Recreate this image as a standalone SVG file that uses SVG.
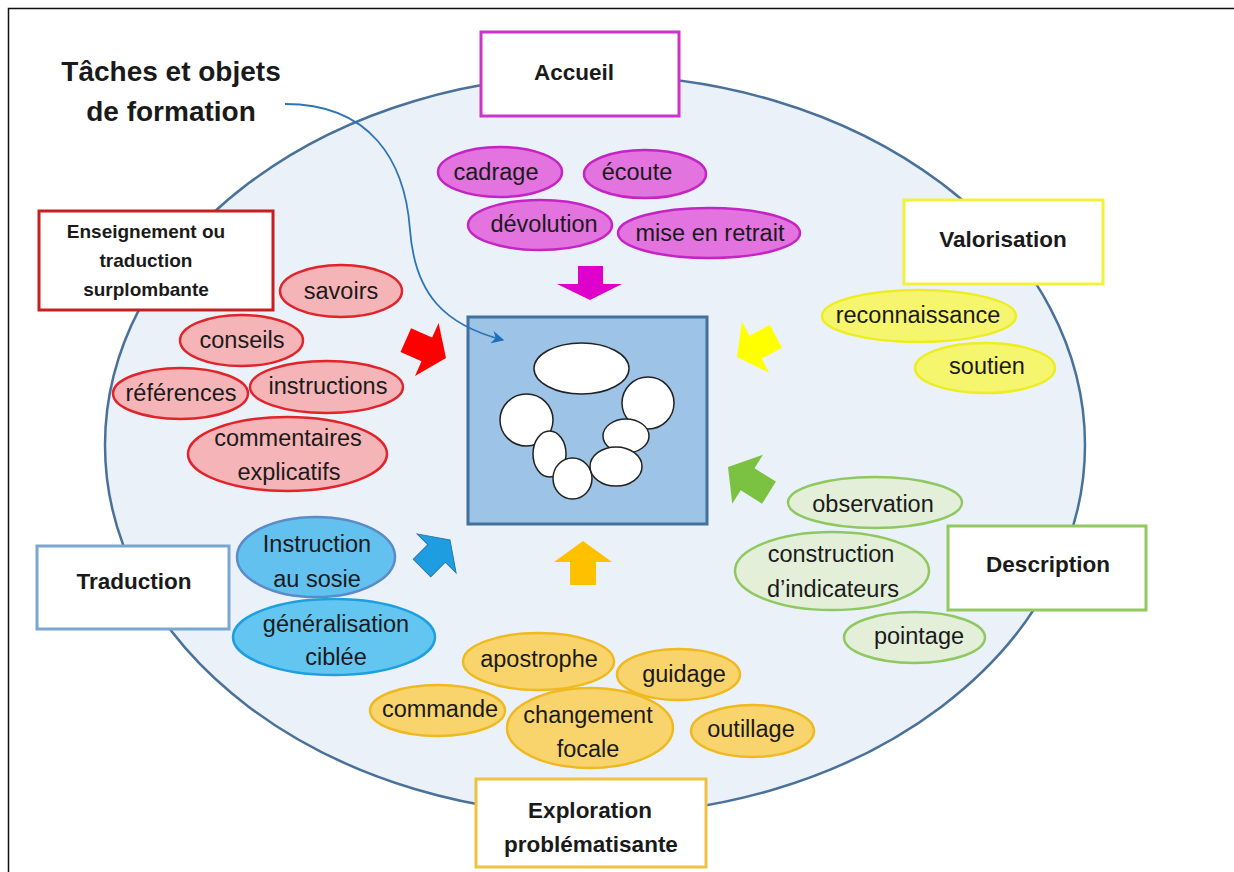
<svg xmlns="http://www.w3.org/2000/svg" width="1234" height="872" viewBox="0 0 1234 872">
<style>
text{font-family:"Liberation Sans",Arial,sans-serif;fill:#1a1a1a;text-anchor:middle}
.n{font-size:23.5px}
.b{font-weight:bold;font-size:22.5px}
.bs{font-weight:bold;font-size:19px}
.title{font-weight:bold;font-size:28px}
.box{fill:#ffffff;stroke-width:3}
.mag{fill:#e273df;stroke:#c524c4;stroke-width:2.5}
.yel{fill:#f6f56e;stroke:#eded22;stroke-width:2.5}
.red{fill:#f5b4b8;stroke:#e0242a;stroke-width:2.5}
.grn{fill:#e3efd9;stroke:#8fc860;stroke-width:2.5}
.org{fill:#f9d46c;stroke:#efb922;stroke-width:2.5}
.wh{fill:#ffffff;stroke:#222;stroke-width:1.5}
</style>
<defs>
<path id="blk" d="M0,0 L-21,-29 L-21,-13 L-44,-13 L-44,13 L-21,13 L-21,29 Z"/>
<marker id="ah" viewBox="0 0 10 10" refX="9" refY="5" markerWidth="7" markerHeight="7" orient="auto">
<path d="M0,0 L10,5 L0,10 L3,5 Z" fill="#1f6fb8"/>
</marker>
</defs>
<rect x="8.5" y="8.5" width="1240" height="880" fill="#ffffff" stroke="#111" stroke-width="1.5"/>
<g id="main-ellipse">
<ellipse cx="595" cy="445" rx="490" ry="370" fill="#eaf1f9" stroke="#4a7199" stroke-width="2.5"/>
</g>
<g id="title">
<text class="title" x="171" y="81">Tâches et objets</text>
<text class="title" x="171" y="121">de formation</text>
</g>
<g id="center-box">
<rect x="468" y="317" width="239" height="207" fill="#9dc3e6" stroke="#41719c" stroke-width="3"/>
<ellipse class="wh" cx="581.5" cy="368.5" rx="47.5" ry="25.5"/>
<ellipse class="wh" cx="526.5" cy="420" rx="26.5" ry="26"/>
<ellipse class="wh" cx="549.5" cy="454" rx="16.5" ry="23"/>
<ellipse class="wh" cx="572.5" cy="478.5" rx="19.5" ry="20.5"/>
<ellipse class="wh" cx="648" cy="403" rx="26" ry="26"/>
<ellipse class="wh" cx="626" cy="436" rx="23" ry="17"/>
<ellipse class="wh" cx="616" cy="466.5" rx="26" ry="19.5"/>
</g>
<g id="connectors">
<path d="M285,104 C370,104 405,160 410,230 C415,295 445,325 503,340" fill="none" stroke="#2e75b6" stroke-width="1.8" marker-end="url(#ah)"/>
<polygon points="590,300 557,284 578,284 578,266 603,266 603,284 622,284" fill="#e000cc"/>
<use href="#blk" transform="translate(737,357) rotate(152)" fill="#ffff00"/>
<use href="#blk" transform="translate(446,358) rotate(24)" fill="#ff0000"/>
<use href="#blk" transform="translate(728,467) rotate(212) scale(1.1,1)" fill="#7cc242"/>
<use href="#blk" transform="translate(450,540) rotate(-45) scale(0.9,0.95)" fill="#1e9de0" stroke="#2a72b0" stroke-width="1"/>
<use href="#blk" transform="translate(583,541) rotate(-90)" fill="#ffc000"/>
</g>
<g id="accueil">
<rect class="box" x="481" y="32" width="198" height="84" stroke="#cc33cc"/>
<text class="b" x="574" y="80">Accueil</text>
</g>
<g id="accueil-items">
<ellipse class="mag" cx="500" cy="172" rx="62" ry="25"/>
<text class="n" x="496" y="180">cadrage</text>
<ellipse class="mag" cx="645" cy="174" rx="61" ry="24"/>
<text class="n" x="637" y="180">écoute</text>
<ellipse class="mag" cx="540" cy="225" rx="72" ry="25"/>
<text class="n" x="544" y="232">dévolution</text>
<ellipse class="mag" cx="709" cy="233" rx="91" ry="25"/>
<text class="n" x="710" y="241">mise en retrait</text>
</g>
<g id="valorisation">
<rect class="box" x="904" y="200" width="199" height="84" stroke="#f2f23a"/>
<text class="b" x="1003" y="247">Valorisation</text>
</g>
<g id="valorisation-items">
<ellipse class="yel" cx="919" cy="316" rx="97" ry="26"/>
<text class="n" x="918" y="323">reconnaissance</text>
<ellipse class="yel" cx="985" cy="368" rx="70" ry="25"/>
<text class="n" x="987" y="374">soutien</text>
</g>
<g id="enseignement">
<rect class="box" x="39" y="211" width="234" height="99" stroke="#c81e1e"/>
<text class="bs" x="146" y="238">Enseignement ou</text>
<text class="bs" x="146" y="267">traduction</text>
<text class="bs" x="146" y="296">surplombante</text>
</g>
<g id="enseignement-items">
<ellipse class="red" cx="341" cy="291" rx="61" ry="26"/>
<text class="n" x="341" y="299">savoirs</text>
<ellipse class="red" cx="241.5" cy="340.5" rx="61.5" ry="25.5"/>
<text class="n" x="242" y="348">conseils</text>
<ellipse class="red" cx="180.5" cy="393.5" rx="67.5" ry="25.5"/>
<text class="n" x="181" y="401">références</text>
<ellipse class="red" cx="326.5" cy="387" rx="76.5" ry="26"/>
<text class="n" x="328" y="394">instructions</text>
<ellipse class="red" cx="287.5" cy="454" rx="99.5" ry="37"/>
<text class="n" x="288" y="446">commentaires</text>
<text class="n" x="289" y="480">explicatifs</text>
</g>
<g id="traduction">
<rect class="box" x="37" y="546" width="192" height="83" stroke="#7aa6d2"/>
<text class="b" x="134" y="589">Traduction</text>
</g>
<g id="traduction-items">
<ellipse cx="316" cy="557" rx="79" ry="40" fill="#62c1ee" stroke="#5b8bc8" stroke-width="2.5"/>
<text class="n" x="317" y="552">Instruction</text>
<text class="n" x="317" y="587">au sosie</text>
<ellipse cx="334" cy="637" rx="101" ry="38" fill="#62c6f0" stroke="#1e9fe0" stroke-width="2.5"/>
<text class="n" x="336" y="632">généralisation</text>
<text class="n" x="336" y="665">ciblée</text>
</g>
<g id="description">
<rect class="box" x="948" y="526" width="198" height="84" stroke="#92c95e"/>
<text class="b" x="1048" y="572">Description</text>
</g>
<g id="description-items">
<ellipse class="grn" cx="875" cy="502.5" rx="87" ry="25.5"/>
<text class="n" x="873" y="512">observation</text>
<ellipse class="grn" cx="832" cy="571" rx="97" ry="39"/>
<text class="n" x="831" y="562">construction</text>
<text class="n" x="833" y="597">d’indicateurs</text>
<ellipse class="grn" cx="914.5" cy="637.5" rx="70.5" ry="25.5"/>
<text class="n" x="919" y="644">pointage</text>
</g>
<g id="exploration">
<rect class="box" x="476" y="779" width="230" height="88" stroke="#f0c040"/>
<text class="b" x="590" y="818">Exploration</text>
<text class="b" x="591" y="852">problématisante</text>
</g>
<g id="exploration-items">
<ellipse class="org" cx="538.5" cy="661.5" rx="75.5" ry="28.5"/>
<text class="n" x="539" y="667">apostrophe</text>
<ellipse class="org" cx="678.5" cy="674.5" rx="61.5" ry="25.5"/>
<text class="n" x="684" y="682">guidage</text>
<ellipse class="org" cx="437.5" cy="710.5" rx="67.5" ry="25.5"/>
<text class="n" x="440" y="717">commande</text>
<ellipse class="org" cx="590" cy="728" rx="83" ry="40"/>
<text class="n" x="588" y="723">changement</text>
<text class="n" x="588" y="757">focale</text>
<ellipse class="org" cx="752.5" cy="731" rx="61.5" ry="26"/>
<text class="n" x="751" y="737">outillage</text>
</g>
</svg>
